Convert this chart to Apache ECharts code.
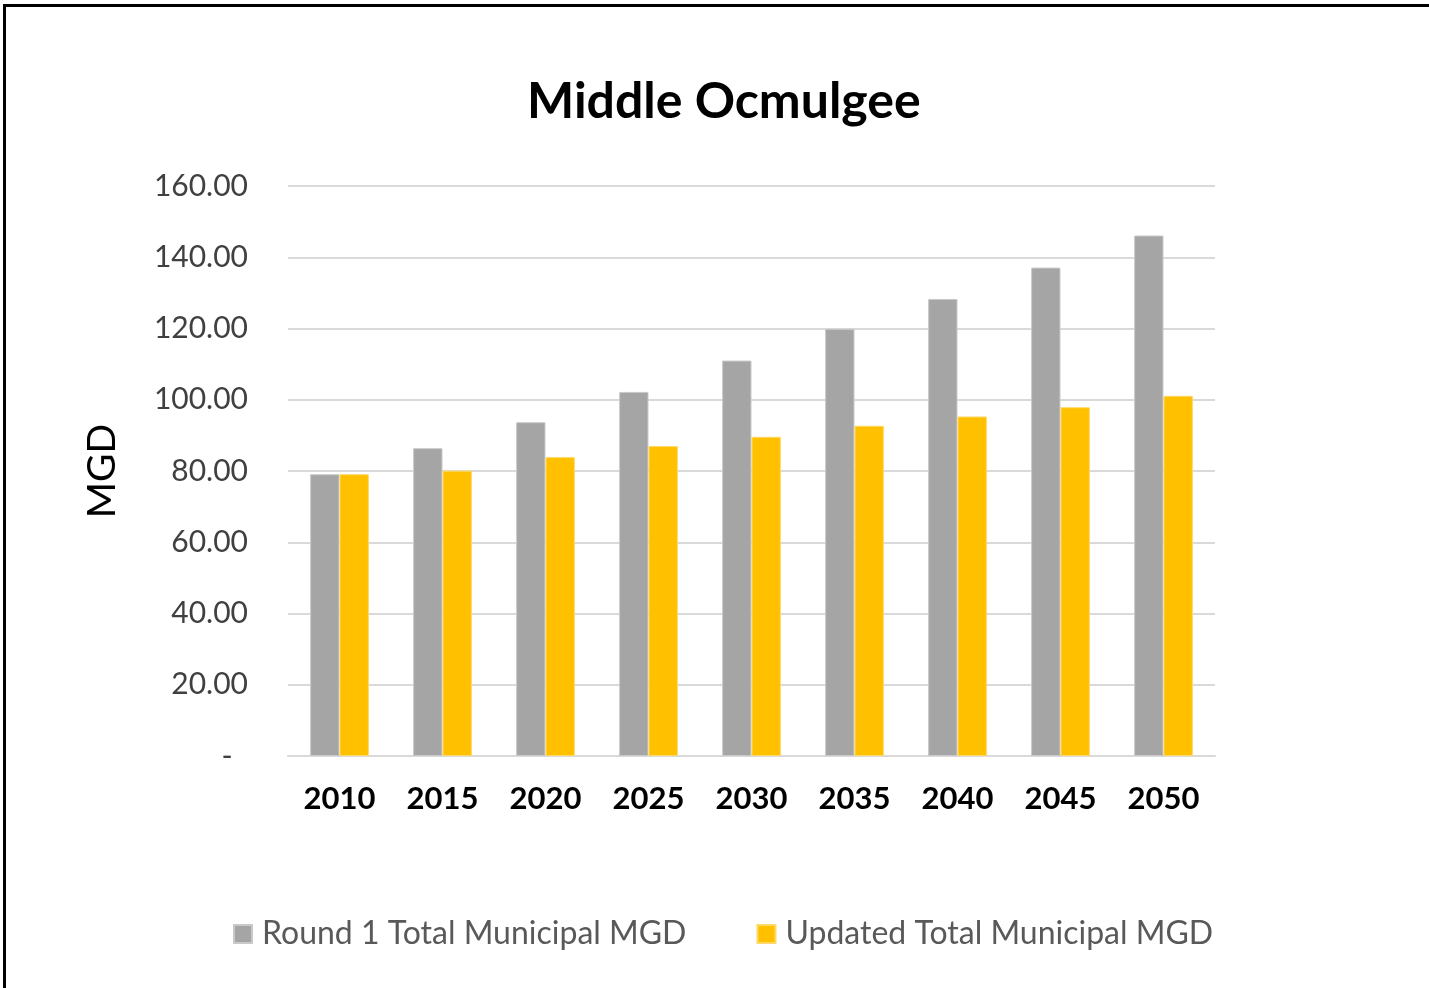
<!DOCTYPE html>
<html>
<head>
<meta charset="utf-8">
<script src="https://cdn.jsdelivr.net/npm/echarts@6/dist/echarts.min.js"></script>
<style>
  html, body { margin: 0; padding: 0; background: #fff; }
  #frame { position: absolute; left: 3px; top: 4px; width: 1426px; height: 984px;
           border-top: 3px solid #000; border-left: 3px solid #000; box-sizing: border-box; }
  #main { position: absolute; left: 0; top: 0; width: 1429px; height: 988px; }
</style>
</head>
<body>
<div id="main"></div>
<div id="frame"></div>
<script>
  // data
  var years = ['2010', '2015', '2020', '2025', '2030', '2035', '2040', '2045', '2050'];
  var round1 = [79.1, 86.4, 93.7, 102.2, 111.0, 119.9, 128.3, 137.1, 146.1];
  var updated = [79.1, 80.1, 83.9, 87.0, 89.6, 92.7, 95.3, 97.9, 101.1];
  var seriesNames = ['Round 1 Total Municipal MGD', 'Updated Total Municipal MGD'];

  var font = 'Lato, "Open Sans", sans-serif';
  var chart = echarts.init(document.getElementById('main'));

  var option = {
    animation: false,
    textStyle: { fontFamily: font },
    title: {
      text: 'Middle Ocmulgee',
      left: 522,
      top: 72,
      textStyle: { fontSize: 50, fontWeight: 'bold', color: '#000', fontFamily: font }
    },
    legend: {
      bottom: 33,
      left: 228,
      itemGap: 70,
      itemWidth: 18,
      itemHeight: 18,
      icon: 'rect',
      textStyle: { fontSize: 32, color: '#595959', fontFamily: font, padding: [0, 0, 0, 5] }
    },
    grid: { left: 288, right: 214, top: 186, bottom: 232 },
    xAxis: {
      type: 'category',
      data: years,
      axisLine: { lineStyle: { color: '#D9D9D9', width: 2 } },
      axisTick: { show: false },
      axisLabel: { fontSize: 31, fontWeight: 'bold', color: '#000', margin: 27, fontFamily: font }
    },
    yAxis: {
      type: 'value',
      min: 0,
      max: 160,
      interval: 20,
      name: 'MGD',
      nameLocation: 'middle',
      nameGap: 166,
      nameRotate: 90,
      nameTextStyle: { fontSize: 39, color: '#000', fontFamily: font },
      axisLine: { show: false },
      axisTick: { show: false },
      splitLine: { lineStyle: { color: '#D9D9D9', width: 2 } },
      axisLabel: {
        fontSize: 30,
        color: '#404040',
        margin: 40,
        fontFamily: font,
        formatter: function (v) { return v === 0 ? '-  ' : v.toFixed(2); }
      }
    },
    series: [
      {
        name: seriesNames[0],
        type: 'bar',
        data: round1,
        barGap: '0%',
        barCategoryGap: '43%',
        itemStyle: { color: '#A5A5A5', borderColor: '#C9C9C9', borderWidth: 1 }
      },
      {
        name: seriesNames[1],
        type: 'bar',
        data: updated,
        itemStyle: { color: '#FFC000', borderColor: '#FFD966', borderWidth: 1 }
      }
    ]
  };

  chart.setOption(option);
</script>
</body>
</html>
